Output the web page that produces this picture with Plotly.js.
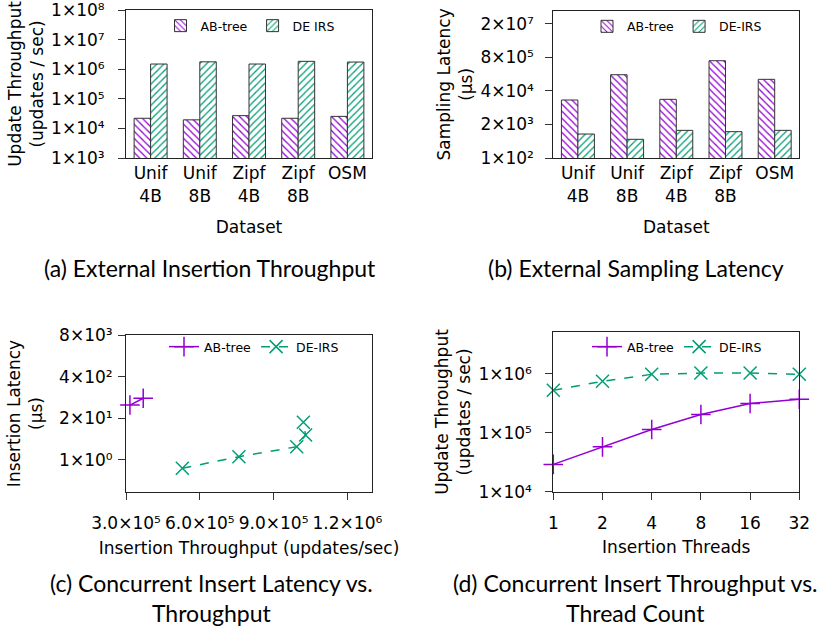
<!DOCTYPE html>
<html>
<head>
<meta charset="utf-8">
<script src="https://cdn.plot.ly/plotly-3.0.1.min.js"></script>
<style>
  html, body { margin: 0; padding: 0; background: #fff; }
  #chart { width: 821px; height: 635px; }
</style>
</head>
<body>
<div id="chart"></div>
<script>
// ---------- data ----------
const datasets = ["Unif<br>4B", "Unif<br>8B", "Zipf<br>4B", "Zipf<br>8B", "OSM"];

const insertThroughputAB = [22000, 19500, 27000, 22000, 25500];
const insertThroughputDE = [1500000, 1780000, 1500000, 1850000, 1750000];

const samplingLatencyAB = [17700, 169000, 18800, 590000, 112000];
const samplingLatencyDE = [850, 530, 1180, 1050, 1180];

const latencyThroughputAB = [316000, 370000];
const latencyAB = [52, 85];
const latencyThroughputDE = [529000, 759000, 994000, 1030000, 1021000];
const latencyDE = [0.55, 1.27, 2.6, 6.0, 15];

const threads = [1, 2, 4, 8, 16, 32];
const threadLabels = ["1", "2", "4", "8", "16", "32"];
const threadThroughputAB = [29000, 57500, 113000, 203000, 311000, 368000];
const threadThroughputDE = [522000, 741000, 973000, 1020000, 1020000, 973000];

const ticksA = [1e3, 1e4, 1e5, 1e6, 1e7, 1e8];
const ticksAText = ["1×10³", "1×10⁴", "1×10⁵", "1×10⁶", "1×10⁷", "1×10⁸"];
const ticksB = [100, 2000, 40000, 800000, 16000000];
const ticksBText = ["1×10²", "2×10³", "4×10⁴", "8×10⁵", "2×10⁷"];
const ticksCY = [1, 20, 400, 8000];
const ticksCYText = ["1×10⁰", "2×10¹", "4×10²", "8×10³"];
const ticksCX = [300000, 600000, 900000, 1200000];
const ticksCXText = ["3.0×10⁵", "6.0×10⁵", "9.0×10⁵", "1.2×10⁶"];
const ticksD = [1e4, 1e5, 1e6];
const ticksDText = ["1×10⁴", "1×10⁵", "1×10⁶"];

// ---------- style ----------
const PURPLE = "#9400D3";
const GREEN = "#009E73";
const FONT = "DejaVu Sans, sans-serif";
const tickFont = { family: FONT, size: 17, color: "#000" };
const titleFont = { family: FONT, size: 17, color: "#000" };
const legendFont = { family: FONT, size: 12.5, color: "#000" };

function barTrace(name, x, y, shape, color, xa, ya, legend) {
  return {
    type: "bar", name: name, x: x, y: y, xaxis: xa, yaxis: ya, legend: legend,
    marker: {
      color: "#fff",
      line: { color: "#333", width: 1 },
      pattern: { shape: shape, fgcolor: color, bgcolor: "#fff", size: 5, solidity: 0.25 }
    },
    hoverinfo: "none"
  };
}

const traces = [
  barTrace("AB-tree", datasets, insertThroughputAB, "\\", PURPLE, "x", "y", "legend"),
  barTrace("DE IRS", datasets, insertThroughputDE, "/", GREEN, "x", "y", "legend"),
  barTrace("AB-tree", datasets, samplingLatencyAB, "\\", PURPLE, "x2", "y2", "legend2"),
  barTrace("DE-IRS", datasets, samplingLatencyDE, "/", GREEN, "x2", "y2", "legend2"),
  {
    type: "scatter", mode: "lines+markers", name: "AB-tree",
    x: latencyThroughputAB, y: latencyAB, xaxis: "x3", yaxis: "y3", legend: "legend3",
    line: { color: PURPLE, width: 1.5 },
    marker: { symbol: "cross-thin-open", size: 14, color: PURPLE, line: { color: PURPLE, width: 1.5 } },
    cliponaxis: false, hoverinfo: "none"
  },
  {
    type: "scatter", mode: "lines+markers", name: "DE-IRS",
    x: latencyThroughputDE, y: latencyDE, xaxis: "x3", yaxis: "y3", legend: "legend3",
    line: { color: GREEN, width: 1.5, dash: "dash" },
    marker: { symbol: "x-thin-open", size: 13, color: GREEN, line: { color: GREEN, width: 1.5 } },
    cliponaxis: false, hoverinfo: "none"
  },
  {
    type: "scatter", mode: "lines+markers", name: "AB-tree",
    x: threads, y: threadThroughputAB, xaxis: "x4", yaxis: "y4", legend: "legend4",
    line: { color: PURPLE, width: 1.5 },
    marker: { symbol: "cross-thin-open", size: 14, color: PURPLE, line: { color: PURPLE, width: 1.5 } },
    cliponaxis: false, hoverinfo: "none"
  },
  {
    type: "scatter", mode: "lines+markers", name: "DE-IRS",
    x: threads, y: threadThroughputDE, xaxis: "x4", yaxis: "y4", legend: "legend4",
    line: { color: GREEN, width: 1.5, dash: "dash" },
    marker: { symbol: "x-thin-open", size: 13, color: GREEN, line: { color: GREEN, width: 1.5 } },
    cliponaxis: false, hoverinfo: "none"
  }
];

function W(px) { return px / 821; }
function H(py) { return 1 - py / 635; }

const boxAxis = {
  showline: true, linecolor: "#222", linewidth: 1, mirror: true,
  showgrid: false, zeroline: false, tickfont: tickFont,
  ticks: "outside", ticklen: 7, tickcolor: "#333", tickwidth: 1,
  ticklabeloverflow: "allow",
  automargin: false, fixedrange: true
};

function legendAt(cx, cy) {
  return {
    orientation: "h", x: W(cx), xanchor: "center", y: H(cy), yanchor: "middle",
    bgcolor: "rgba(0,0,0,0)", font: legendFont, itemclick: false, itemdoubleclick: false,
    tracegroupgap: 0
  };
}

function caption(text, cx, cy) {
  return {
    xref: "paper", yref: "paper", x: W(cx), y: H(cy), xanchor: "center", yanchor: "middle",
    text: text, showarrow: false, align: "center",
    font: { family: "Lato", size: 23, color: "#000" }
  };
}

const layout = {
  width: 821, height: 635,
  margin: { l: 0, r: 0, t: 0, b: 0 },
  paper_bgcolor: "#fff", plot_bgcolor: "#fff",
  showlegend: true,
  barmode: "group", bargap: 0.33, bargroupgap: 0,
  font: { family: FONT, color: "#000" },

  // (a)
  xaxis: Object.assign({}, boxAxis, {
    domain: [W(126), W(372)], anchor: "y", type: "category",
    ticks: "", ticklabelstandoff: 0,
    title: { text: "Dataset", font: titleFont, standoff: 16 }
  }),
  yaxis: Object.assign({}, boxAxis, {
    domain: [H(158), H(10)], anchor: "x", type: "log", range: [3, 8.002],
    tickvals: ticksA, ticktext: ticksAText, ticklabelstandoff: 10,
    title: { text: "Update Throughput<br>(updates / sec)", font: titleFont, standoff: 3 }
  }),
  // (b)
  xaxis2: Object.assign({}, boxAxis, {
    domain: [W(553.3), W(799.3)], anchor: "y2", type: "category",
    ticks: "", ticklabelstandoff: 0,
    title: { text: "Dataset", font: titleFont, standoff: 16 }
  }),
  yaxis2: Object.assign({}, boxAxis, {
    domain: [H(158), H(10.7)], anchor: "x2", type: "log", range: [2, 7.71],
    tickvals: ticksB, ticktext: ticksBText, ticklabelstandoff: 8,
    title: { text: "Sampling Latency<br>(µs)", font: titleFont, standoff: 3 }
  }),
  // (c)
  xaxis3: Object.assign({}, boxAxis, {
    domain: [W(126), W(372)], anchor: "y3", type: "linear", range: [300000, 1300000],
    tickvals: ticksCX, ticktext: ticksCXText, tickangle: 0, ticklabelstandoff: 9,
    title: { text: "Insertion Throughput (updates/sec)", font: titleFont, standoff: 9 }
  }),
  yaxis3: Object.assign({}, boxAxis, {
    domain: [H(492), H(335)], anchor: "x3", type: "log", range: [-1, 3.904],
    tickvals: ticksCY, ticktext: ticksCYText, ticklabelstandoff: 2,
    title: { text: "Insertion Latency<br>(µs)", font: titleFont, standoff: 12 }
  }),
  // (d)
  xaxis4: Object.assign({}, boxAxis, {
    domain: [W(553.3), W(799.3)], anchor: "y4", type: "log", range: [0, Math.log10(32)],
    tickvals: threads, ticktext: threadLabels, tickangle: 0, ticklabelstandoff: 9,
    title: { text: "Insertion Threads", font: titleFont, standoff: 9 }
  }),
  yaxis4: Object.assign({}, boxAxis, {
    domain: [H(491.7), H(332.3)], anchor: "x4", type: "log", range: [4, 6.699],
    tickvals: ticksD, ticktext: ticksDText, ticklabelstandoff: 10,
    title: { text: "Update Throughput<br>(updates / sec)", font: titleFont, standoff: 3 }
  }),

  legend: legendAt(250, 26),
  legend2: legendAt(677, 26.7),
  legend3: legendAt(254, 347),
  legend4: legendAt(677, 347),

  annotations: [
    caption("(a) External Insertion Throughput", 210, 268),
    caption("(b) External Sampling Latency", 636, 268),
    caption("(c) Concurrent Insert Latency vs.<br>Throughput", 211, 597.5),
    caption("(d) Concurrent Insert Throughput vs.<br>Thread Count", 635.5, 597.5)
  ]
};

Plotly.newPlot("chart", traces, layout, { displayModeBar: false, staticPlot: true });
</script>
</body>
</html>
